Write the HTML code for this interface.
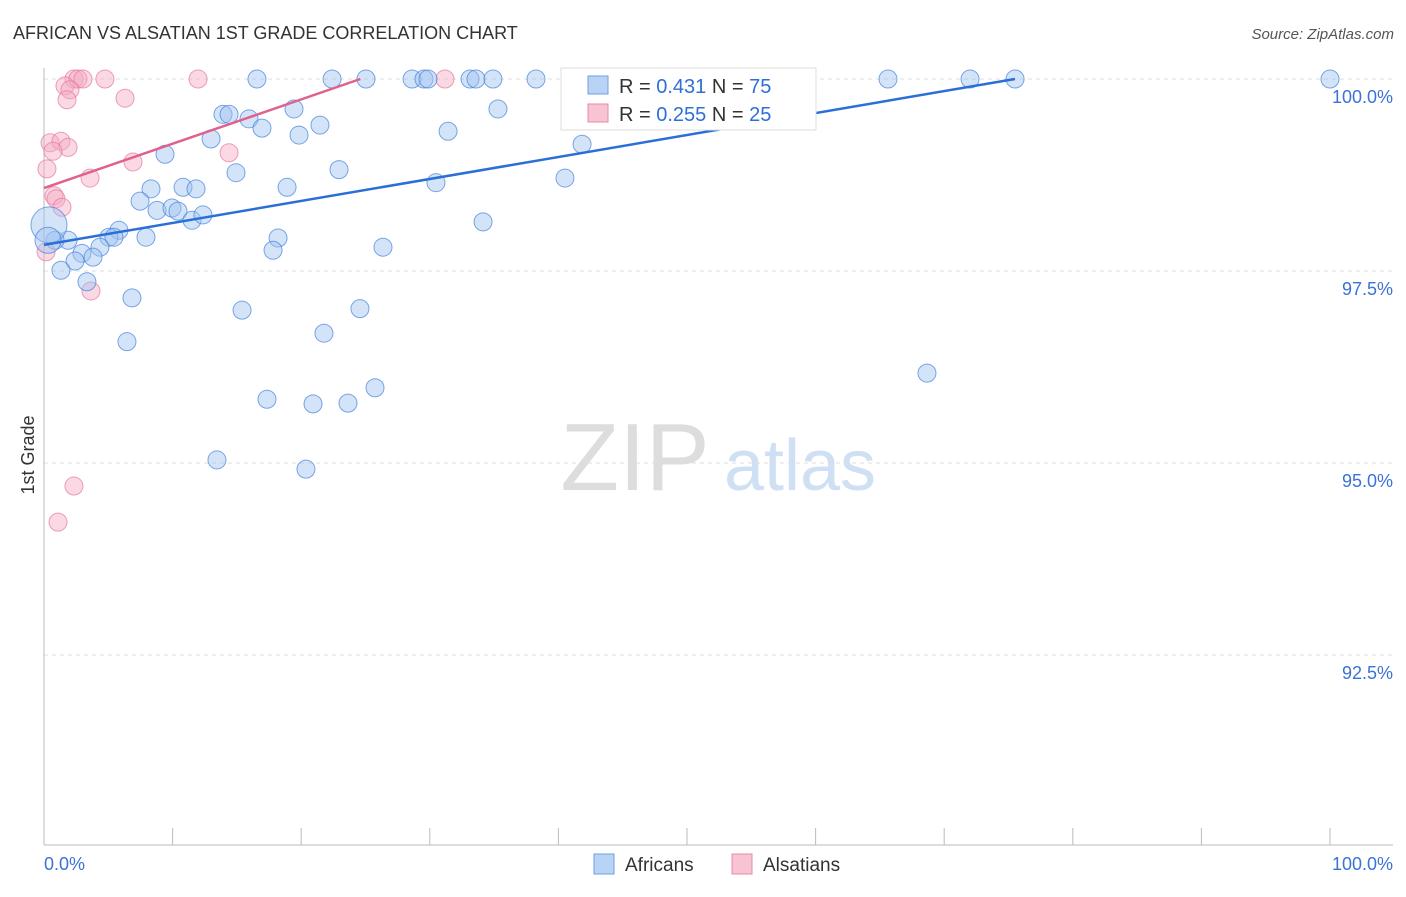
<!DOCTYPE html>
<html><head><meta charset="utf-8"><style>
body{margin:0;background:#fff;font-family:"Liberation Sans",sans-serif}
svg text{font-family:"Liberation Sans",sans-serif}
</style></head><body>
<svg id="c" width="1406" height="892" xmlns="http://www.w3.org/2000/svg">
<text x="13" y="39" font-size="18" fill="#333">AFRICAN VS ALSATIAN 1ST GRADE CORRELATION CHART</text>
<text x="1394" y="39" font-size="15" fill="#555" text-anchor="end" font-style="italic">Source: ZipAtlas.com</text>
<text x="34" y="455" font-size="18" fill="#333" transform="rotate(-90 34 455)" text-anchor="middle">1st Grade</text>
<g><text x="635" y="490" font-size="96" fill="#ddd" font-family="Liberation Serif" text-anchor="middle">ZIP</text><text x="800" y="490" font-size="72" fill="#cfe0f5" text-anchor="middle">atlas</text></g>
<g id="grid"></g><g id="axes"></g><g id="pts"></g><g id="lines"></g>
<g>
<rect x="561" y="68" width="255" height="62" fill="#fff" stroke="#ddd"/>
<rect x="588" y="76" width="20" height="18" fill="#b8d3f3" stroke="#6f9fe0"/>
<text x="619" y="93" font-size="20" fill="#333">R = <tspan fill="#2f6fd6">0.431</tspan>   N = <tspan fill="#2f6fd6">75</tspan></text>
<rect x="588" y="104" width="20" height="18" fill="#f8c4d3" stroke="#e88aa6"/>
<text x="619" y="121" font-size="20" fill="#333">R = <tspan fill="#2f6fd6">0.255</tspan>   N = <tspan fill="#2f6fd6">25</tspan></text>
</g>
<g>
<rect x="594" y="854" width="20" height="20" fill="#b8d3f3" stroke="#6f9fe0"/>
<text x="625" y="871" font-size="19" fill="#333">Africans</text>
<rect x="732" y="854" width="20" height="20" fill="#f8c4d3" stroke="#e88aa6"/>
<text x="763" y="871" font-size="19" fill="#333">Alsatians</text>
</g>
</svg>
<script>
const yTicks=[100,97.5,95,92.5];
const yTickLabels=["100.0%","97.5%","95.0%","92.5%"];
const xTickLabels=["0.0%","100.0%"];
const afrX=[16.56,22.40,25.04,28.62,29.55,29.86,33.13,33.59,34.91,38.26,42.46,52.33,59.02,65.63,72.01,75.51,100,13.92,14.39,15.94,16.95,19.44,19.83,21.46,12.99,9.41,14.93,22.94,31.42,35.30,41.84,40.51,30.48,18.90,10.81,11.82,8.32,7.47,8.79,9.95,10.42,11.51,12.36,34.14,5.83,5.05,5.44,7.93,1.87,0.86,4.35,26.36,18.20,17.81,2.95,3.81,2.41,1.32,3.34,6.84,15.40,24.57,21.77,6.45,68.66,25.74,17.34,20.92,23.64,13.45,20.37,0.39,0.31];
const afrY=[100,100,100,100,100,100,100,100,100,100,100,100,100,100,100,100,100,99.54,99.54,99.48,99.36,99.61,99.27,99.40,99.22,99.02,98.78,98.82,99.32,99.61,99.15,98.71,98.65,98.59,98.59,98.57,98.57,98.41,98.29,98.32,98.28,98.16,98.23,98.14,98.03,97.94,97.94,97.94,97.90,97.90,97.81,97.81,97.93,97.77,97.73,97.68,97.63,97.51,97.36,97.15,96.99,97.01,96.69,96.58,96.17,95.98,95.83,95.77,95.78,95.04,94.92,98.10,97.90];
const alsX=[2.33,2.64,3.03,4.74,11.98,31.18,1.63,2.02,1.79,6.30,0.47,1.32,1.87,0.70,14.39,6.92,0.23,3.58,0.78,0.93,1.40,3.65,2.33,1.09,0.16];
const alsY=[100,100,100,100,100,100,99.91,99.86,99.73,99.75,99.17,99.19,99.11,99.06,99.04,98.92,98.83,98.71,98.48,98.44,98.33,97.24,94.70,94.23,97.75];
const afrTrend=[[0,97.84],[75.5,100]];
const alsTrend=[[0,98.58],[24.6,100]];
const NS="http://www.w3.org/2000/svg";
const X0=44,X1=1330,Y100=79,PX=76.8;
const sx=v=>X0+(X1-X0)*v/100;
const sy=v=>Y100+(100-v)/2.5*192;
function mk(t,a,p){const e=document.createElementNS(NS,t);for(const k in a)e.setAttribute(k,a[k]);p.appendChild(e);return e;}
const grid=document.getElementById('grid'),axes=document.getElementById('axes'),pts=document.getElementById('pts'),lines=document.getElementById('lines');
yTicks.forEach((t,i)=>{
 const g=mk('line',{x1:44,x2:1393,y1:sy(t),y2:sy(t),stroke:'#ddd','stroke-dasharray':'4 4'},grid);
 
 
 const l=mk('text',{x:1393,y:sy(t)+24,'font-size':18,fill:'#3a72d8','text-anchor':'end'},axes);
 l.textContent=yTickLabels[i];
 
 
});
const ax=mk('line',{x1:44,x2:1393,y1:845,y2:845,stroke:'#bbb'},axes);


const ay=mk('line',{x1:44,x2:44,y1:68,y2:845,stroke:'#bbb'},axes);


for(let i=0;i<=10;i++){
 const t=mk('line',{x1:sx(i*10),x2:sx(i*10),y1:828,y2:845,stroke:'#bbb'},axes);
 
 
}
[[0,'start',44],[100,'end',1393]].forEach((d,i)=>{
 const l=mk('text',{x:d[2],y:870,'font-size':18,fill:'#3a72d8','text-anchor':d[1]},axes);
 l.textContent=xTickLabels[i];
 
 
});
alsX.forEach((x,i)=>{
 const c=mk('circle',{cx:sx(x),cy:sy(alsY[i]),r:9,fill:'rgba(244,170,195,0.45)',stroke:'rgba(230,120,155,0.7)','stroke-width':1},pts);
 
 
});
afrX.forEach((x,i)=>{
 const r=i==afrX.length-2?18:(i==afrX.length-1?13:9);
 const c=mk('circle',{cx:sx(x),cy:sy(afrY[i]),r:r,fill:'rgba(160,196,240,0.45)',stroke:'rgba(70,130,220,0.7)','stroke-width':1},pts);
 
 
});
const tb=mk('line',{x1:sx(afrTrend[0][0]),y1:sy(afrTrend[0][1]),x2:sx(afrTrend[1][0]),y2:sy(afrTrend[1][1]),stroke:'#2a6fd8','stroke-width':2.5},lines);


const tp=mk('line',{x1:sx(alsTrend[0][0]),y1:sy(alsTrend[0][1]),x2:sx(alsTrend[1][0]),y2:sy(alsTrend[1][1]),stroke:'#e0628c','stroke-width':2.5},lines);


</script>
</body></html>
